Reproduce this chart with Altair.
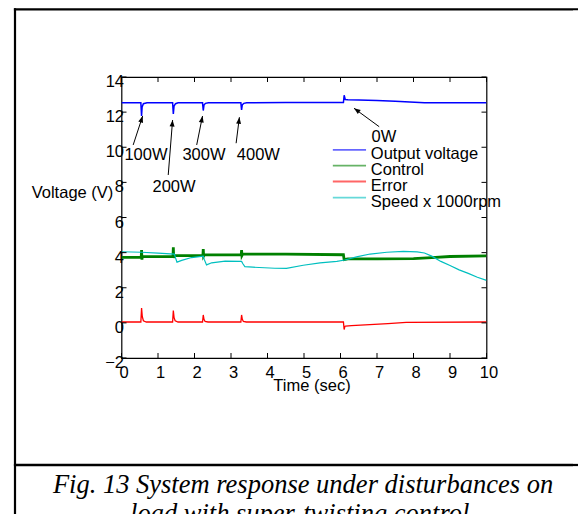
import math
import altair as alt
import pandas as pd

# ---------------- data ----------------
t_volt = [0, 0.53, 0.55, 0.565, 0.6, 0.7, 1.40, 1.42, 1.44, 1.48, 1.55, 2.22, 2.24, 2.26, 2.30, 2.38,
          3.27, 3.29, 3.31, 3.35, 3.43, 4.5, 6.08, 6.10, 6.13, 6.2, 6.5, 7.0, 7.5, 7.9, 8.3, 10]
v_volt = [12.53, 12.53, 11.78, 12.3, 12.48, 12.53, 12.53, 11.9, 12.35, 12.48, 12.53, 12.53, 12.09, 12.4,
          12.5, 12.53, 12.53, 12.12, 12.42, 12.5, 12.53, 12.55, 12.55, 12.96, 12.72, 12.7, 12.69, 12.66,
          12.62, 12.58, 12.53, 12.53]

t_ctrl = [0, 0.54, 0.55, 0.56, 0.57, 1.41, 1.42, 1.43, 1.45, 2.23, 2.24, 2.25, 2.27, 3.28, 3.29, 3.30,
          3.32, 4.5, 6.08, 6.10, 6.2, 7.0, 8.0, 8.5, 9.0, 10]
v_ctrl = [3.73, 3.73, 4.15, 3.6, 3.77, 3.77, 4.3, 3.7, 3.83, 3.83, 4.2, 3.8, 3.87, 3.87, 4.15, 3.84,
          3.92, 3.91, 3.88, 3.6, 3.64, 3.64, 3.66, 3.72, 3.78, 3.82]

t_err = [0, 0.53, 0.55, 0.57, 0.6, 0.68, 1.40, 1.42, 1.44, 1.47, 1.55, 2.22, 2.24, 2.26, 2.29, 2.37,
         3.27, 3.29, 3.31, 3.34, 3.42, 6.08, 6.10, 6.12, 6.14, 6.3, 6.8, 7.3, 7.8, 10]
v_err = [0.05, 0.05, 0.85, 0.35, 0.12, 0.05, 0.05, 0.7, 0.3, 0.12, 0.05, 0.05, 0.45, 0.2, 0.08, 0.05,
         0.05, 0.45, 0.2, 0.08, 0.05, 0.05, -0.38, -0.2, -0.18, -0.16, -0.1, -0.04, 0.03, 0.05]

t_speed = [0, 0.55, 1.0, 1.45, 1.48, 1.52, 1.65, 1.92, 2.24, 2.27, 2.33, 2.47, 2.84, 3.29, 3.33, 3.38,
           3.6, 4.2, 4.52, 4.98, 5.44, 5.9, 6.12, 6.44, 6.81, 7.27, 7.72, 8.1, 8.3, 8.5, 8.75, 9.0,
           9.25, 9.5, 9.75, 10]
v_speed = [4.05, 4.02, 3.97, 3.92, 3.7, 3.46, 3.56, 3.72, 3.8, 3.6, 3.3, 3.42, 3.52, 3.5, 3.35, 3.2,
           3.17, 3.11, 3.1, 3.28, 3.42, 3.5, 3.58, 3.76, 3.92, 4.02, 4.07, 4.04, 3.98, 3.8, 3.5, 3.27,
           3.02, 2.82, 2.6, 2.42]

series_names = ["Output voltage", "Control", "Error", "Speed x 1000rpm"]
series_t = [t_volt, t_ctrl, t_err, t_speed]
series_v = [v_volt, v_ctrl, v_err, v_speed]

x_ticks = list(range(0, 11))
y_ticks = list(range(-2, 15, 2))

ann_labels = ["100W", "200W", "300W", "400W", "0W"]
ann_text_x = [0.67, 1.44, 2.26, 3.75, 7.19]
ann_text_y = [9.56, 7.75, 9.56, 9.56, 10.57]
arrow_tail_x = [0.32, 1.28, 2.06, 3.14, 7.06]
arrow_tail_y = [10.13, 8.42, 10.13, 10.23, 11.17]
arrow_tip_x = [0.58, 1.40, 2.22, 3.23, 6.37]
arrow_tip_y = [11.78, 11.55, 11.78, 11.71, 12.22]

caption_lines = ["Fig. 13 System response under disturbances on",
                 "load with super-twisting control."]

# ---------------- layout / style ----------------
W, H = 365, 281
PAD_L, PAD_T = 113.5, 69
TOTAL_W, TOTAL_H = 570, 506
XMIN, XMAX, YMIN, YMAX = 0, 10, -2, 14
PX_X = W / (XMAX - XMIN)
PX_Y = H / (YMAX - YMIN)

colors = ["#0000FF", "#008000", "#FF0000", "#00BFBF"]
widths = [1.5, 2.8, 1.3, 1.2]
FONT = "Liberation Sans"

# legend placement (data units)
LEG_X1, LEG_X2, LEG_TX = 5.79, 6.70, 6.83
LEG_Y = [9.85, 8.95, 8.05, 7.13]

xs = alt.Scale(domain=[XMIN, XMAX], nice=False, zero=False)
ys = alt.Scale(domain=[YMIN, YMAX], nice=False, zero=False)

xaxis = alt.Axis(values=x_ticks, ticks=False, domain=False, grid=False, labelPadding=6,
                 labelOffset=2, labelFontSize=16.5, labelFont=FONT, labelColor="black",
                 labelBaseline="top", labelFlush=False, labelOverlap=False,
                 title="Time (sec)", titleFont=FONT, titleFontSize=16.5, titleFontWeight="normal",
                 titleColor="black", titleX=190, titleY=32, titleBaseline="alphabetic",
                 titleAlign="center")
yaxis = alt.Axis(values=y_ticks, ticks=False, domain=False, grid=False, labelPadding=-2,
                 labelOffset=4.5, labelFontSize=16.5, labelFont=FONT, labelColor="black",
                 labelBaseline="middle", labelFlush=False, labelOverlap=False,
                 title="Voltage (V)", titleFont=FONT, titleFontSize=16.5, titleFontWeight="normal",
                 titleColor="black", titleAngle=0, titleX=-49.5, titleY=115,
                 titleAlign="center", titleBaseline="middle")

X = alt.X("t:Q", scale=xs, axis=xaxis)
Y = alt.Y("v:Q", scale=ys, axis=yaxis)

layers = []

# data lines
for name, tt, vv, c, w in zip(series_names, series_t, series_v, colors, widths):
    df = pd.DataFrame({"t": tt, "v": vv, "i": range(len(tt))})
    layers.append(alt.Chart(df).mark_line(color=c, strokeWidth=w, clip=True,
                                          strokeJoin="miter", interpolate="linear")
                  .encode(x=X, y=Y, order="i:Q"))

# inward ticks
xt = pd.DataFrame({"t": x_ticks})
yt = pd.DataFrame({"v": y_ticks})
tick_style = dict(color="black", strokeWidth=1)
layers.append(alt.Chart(xt).mark_rule(**tick_style).encode(x=X, y=alt.value(H), y2=alt.value(H - 5)))
layers.append(alt.Chart(xt).mark_rule(**tick_style).encode(x=X, y=alt.value(0), y2=alt.value(5)))
layers.append(alt.Chart(yt).mark_rule(**tick_style).encode(y=Y, x=alt.value(0), x2=alt.value(5)))
layers.append(alt.Chart(yt).mark_rule(**tick_style).encode(y=Y, x=alt.value(W), x2=alt.value(W - 5)))

# annotations
angles = []
for tx, ty, hx, hy in zip(arrow_tail_x, arrow_tail_y, arrow_tip_x, arrow_tip_y):
    dx = (hx - tx) * PX_X
    dy = (hy - ty) * PX_Y
    angles.append(math.degrees(math.atan2(dx, dy)) % 360)
arr = pd.DataFrame({"t": arrow_tail_x, "v": arrow_tail_y, "t2": arrow_tip_x, "v2": arrow_tip_y,
                    "a": angles})
layers.append(alt.Chart(arr).mark_rule(color="black", strokeWidth=1).encode(
    x=X, y=Y, x2="t2:Q", y2="v2:Q"))
layers.append(alt.Chart(arr).mark_point(shape="M0,0L-0.38,1L0.38,1Z", filled=True, color="black",
                                        opacity=1, size=170).encode(
    x=alt.X("t2:Q", scale=xs, axis=xaxis), y=alt.Y("v2:Q", scale=ys, axis=yaxis),
    angle=alt.Angle("a:Q", scale=None)))
ann = pd.DataFrame({"t": ann_text_x, "v": ann_text_y, "s": ann_labels})
layers.append(alt.Chart(ann).mark_text(font=FONT, fontSize=16.5, color="black", align="center",
                                       baseline="middle").encode(x=X, y=Y, text="s:N"))

# legend (drawn manually)
leg = pd.DataFrame({"t": [LEG_X1] * 4, "t2": [LEG_X2] * 4, "v": LEG_Y, "s": series_names,
                    "tt": [LEG_TX] * 4})
layers.append(alt.Chart(leg).mark_rule(strokeWidth=1.8, opacity=0.6).encode(
    x=X, x2="t2:Q", y=Y,
    color=alt.Color("s:N", scale=alt.Scale(domain=series_names, range=colors), legend=None)))
layers.append(alt.Chart(leg).mark_text(font=FONT, fontSize=16.5, color="black", align="left",
                                       baseline="middle", dy=4.5).encode(
    x=alt.X("tt:Q", scale=xs, axis=xaxis), y=Y, text="s:N"))

# page frame drawn as thin filled rectangles
dummy = pd.DataFrame({"d": [0]})
fx0 = 15 - (PAD_L + 8)
fy0 = 9.3 - (PAD_T + 8)
fdiv = 465 - (PAD_T + 8)
fright = TOTAL_W - PAD_L
fbottom = TOTAL_H - PAD_T
frame_rect = dict(color="black", strokeWidth=0, opacity=1, clip=False)
layers.append(alt.Chart(dummy).mark_rect(**frame_rect).encode(
    x=alt.value(fx0 - 1.1), x2=alt.value(fx0 + 1.1), y=alt.value(fy0 - 1.1), y2=alt.value(fbottom)))
layers.append(alt.Chart(dummy).mark_rect(**frame_rect).encode(
    x=alt.value(fx0 - 1.1), x2=alt.value(fright), y=alt.value(fy0 - 1.1), y2=alt.value(fy0 + 1.1)))
layers.append(alt.Chart(dummy).mark_rect(**frame_rect).encode(
    x=alt.value(fx0 - 1.1), x2=alt.value(fright), y=alt.value(fdiv - 1.3), y2=alt.value(fdiv + 1.3)))

# white strips along the right edge (the page continues past the picture there)
edge_rect = dict(color="white", strokeWidth=0, opacity=1, clip=False)
layers.append(alt.Chart(dummy).mark_rect(**edge_rect).encode(
    x=alt.value(fright - 5), x2=alt.value(fright + 2), y=alt.value(fy0 + 1.2), y2=alt.value(fdiv - 1.4)))
layers.append(alt.Chart(dummy).mark_rect(**edge_rect).encode(
    x=alt.value(fright - 5), x2=alt.value(fright + 2), y=alt.value(fdiv + 1.4), y2=alt.value(fbottom + 5)))

cap_cx = 303 - (PAD_L + 8)
cap_y = [493 - (PAD_T + 8), 522 - (PAD_T + 8)]
for line, yy in zip(caption_lines, cap_y):
    layers.append(alt.Chart(pd.DataFrame({"c": [line]})).mark_text(
        font="Liberation Serif", fontStyle="italic", fontSize=26.5, color="black",
        align="center", baseline="alphabetic").encode(
        text="c:N", x=alt.value(cap_cx), y=alt.value(yy)))

chart = alt.layer(*layers).properties(
    width=W, height=H,
    autosize=alt.AutoSizeParams(type="none"),
    padding={"left": PAD_L, "top": PAD_T, "right": TOTAL_W - PAD_L - W, "bottom": TOTAL_H - PAD_T - H},
    background="white",
).configure_view(stroke="black", strokeWidth=1.2)

chart.save("out.html", embed_options={"renderer": "svg", "actions": False})
